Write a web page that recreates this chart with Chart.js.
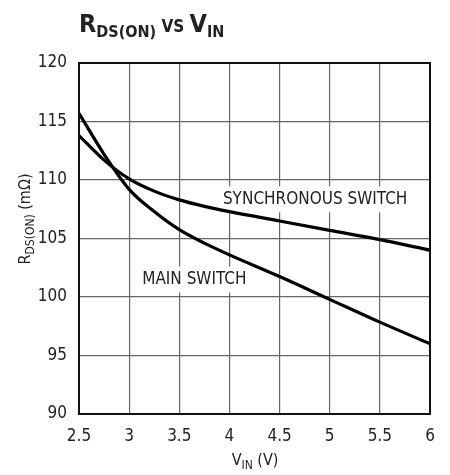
<!doctype html>
<html>
  <head>
    <script src="https://cdn.jsdelivr.net/npm/chart.js@4"></script>
    <style>
      body { margin: 0; background: #fff; }
    </style>
  </head>
  <body>
    <canvas id="canvas" width="450" height="475"></canvas>
    <script>
      const vin = [2.5, 2.75, 3, 3.25, 3.5, 3.75, 4, 4.5, 5, 5.5, 6];
      const mainSwitch = [115.7, 112.2, 109.2, 107.3, 105.75, 104.6, 103.6, 101.75, 99.8, 97.85, 96.0];
      const syncSwitch = [113.8, 111.7, 110.1, 109.05, 108.3, 107.75, 107.3, 106.5, 105.7, 104.9, 104.0];

      const FONT = "'DejaVu Sans Condensed', 'Liberation Sans', sans-serif";

      // draw a run of text pieces, each with its own size and vertical shift
      function drawRun(ctx, parts, x, y, align, weight) {
        let total = 0;
        parts.forEach((p) => {
          ctx.font = `${weight} ${p.size}px ${FONT}`;
          p.w = ctx.measureText(p.text).width;
          total += p.w;
        });
        let cx = align === 'center' ? x - total / 2 : x;
        ctx.textAlign = 'left';
        ctx.textBaseline = 'alphabetic';
        parts.forEach((p) => {
          ctx.font = `${weight} ${p.size}px ${FONT}`;
          ctx.fillText(p.text, cx, y + (p.dy || 0));
          cx += p.w;
        });
      }

      const textPlugin = {
        id: 'texts',
        beforeDatasetsDraw(chart) {
          const { ctx, scales } = chart;
          const x = scales.x, y = scales.y;
          ctx.save();
          // label boxes hide the grid behind them
          const labels = [
            { text: 'SYNCHRONOUS SWITCH', vx: 3.935, vy: 108.35 },
            { text: 'MAIN SWITCH', vx: 3.13, vy: 101.5 },
          ];
          ctx.font = `17px ${FONT}`;
          labels.forEach((l) => {
            const w = ctx.measureText(l.text).width;
            const px = x.getPixelForValue(l.vx), py = y.getPixelForValue(l.vy);
            ctx.fillStyle = '#fff';
            ctx.fillRect(px - 4, py - 13, w + 8, 26);
            ctx.fillStyle = '#222';
            ctx.textAlign = 'left';
            ctx.textBaseline = 'middle';
            ctx.fillText(l.text, px, py);
          });
          ctx.restore();
        },
        afterDraw(chart) {
          const { ctx, chartArea: a } = chart;
          ctx.save();
          // frame round the plot
          ctx.strokeStyle = '#111';
          ctx.lineWidth = 2;
          ctx.strokeRect(a.left, a.top, a.right - a.left, a.bottom - a.top);

          ctx.fillStyle = '#222';
          drawRun(ctx, [
            { text: 'R', size: 25 },
            { text: 'DS(ON)', size: 16, dy: 5 },
            { text: ' VS ', size: 17 },
            { text: 'V', size: 25 },
            { text: 'IN', size: 16, dy: 5 },
          ], 79, 32, 'left', 'bold');

          drawRun(ctx, [
            { text: 'V', size: 16 },
            { text: 'IN', size: 12, dy: 4 },
            { text: ' (V)', size: 16 },
          ], 255, 465, 'center', 'normal');

          ctx.translate(30, 219);
          ctx.rotate(-Math.PI / 2);
          drawRun(ctx, [
            { text: 'R', size: 16 },
            { text: 'DS(ON)', size: 12, dy: 4 },
            { text: ' (m\u03A9)', size: 16 },
          ], 0, 0, 'center', 'normal');
          ctx.restore();
        },
      };

      const toPoints = (ys) => vin.map((v, i) => ({ x: v, y: ys[i] }));

      new Chart(document.getElementById('canvas').getContext('2d'), {
        type: 'line',
        data: {
          datasets: [
            { label: 'Main switch', data: toPoints(mainSwitch) },
            { label: 'Synchronous switch', data: toPoints(syncSwitch) },
          ],
        },
        options: {
          responsive: false,
          animation: false,
          layout: { padding: { left: 0, top: 63, right: 20, bottom: 0 } },
          elements: {
            line: { borderColor: '#000', borderWidth: 3.2, cubicInterpolationMode: 'monotone', fill: false },
            point: { radius: 0 },
          },
          plugins: {
            legend: { display: false },
            tooltip: { enabled: false },
          },
          scales: {
            x: {
              type: 'linear',
              min: 2.5,
              max: 6,
              afterFit: (s) => { s.height = 61; },
              ticks: {
                stepSize: 0.5, color: '#222', padding: 12,
                font: { family: FONT, size: 17 },
                callback: (v) => String(+v.toFixed(1)),
              },
              grid: { color: '#666', lineWidth: 1.2, drawTicks: false },
              border: { color: '#111', width: 2 },
            },
            y: {
              min: 90,
              max: 120,
              afterFit: (s) => { s.width = 79; },
              ticks: { stepSize: 5, color: '#222', padding: 12, font: { family: FONT, size: 17 } },
              grid: { color: '#666', lineWidth: 1.2, drawTicks: false },
              border: { color: '#111', width: 2 },
            },
          },
        },
        plugins: [textPlugin],
      });
    </script>
  </body>
</html>
